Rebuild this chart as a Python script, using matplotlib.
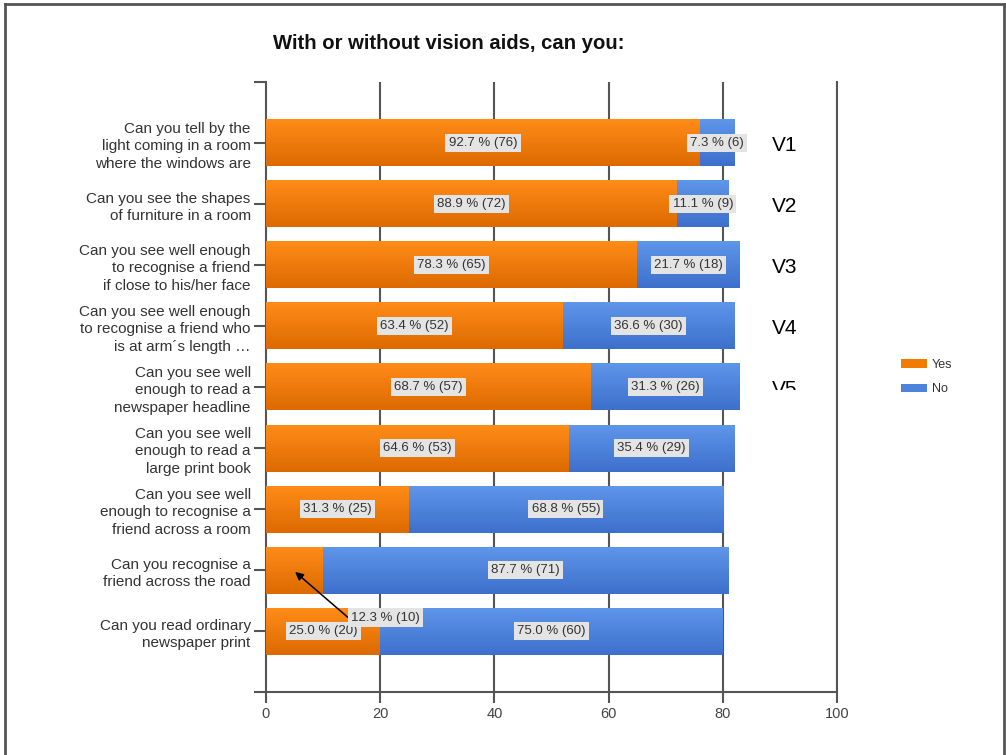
import numpy as np
import matplotlib
matplotlib.use('Agg')
import matplotlib.pyplot as plt
from matplotlib.lines import Line2D
from matplotlib.patches import Rectangle
from matplotlib.colors import LinearSegmentedColormap

plt.rcParams['font.family'] = ['Liberation Sans', 'DejaVu Sans']

questions = [
    'Can you tell by the\nlight coming in a room\nwhere the windows are',
    'Can you see the shapes\nof furniture in a room',
    'Can you see well enough\nto recognise a friend\nif close to his/her face',
    'Can you see well enough\nto recognise a friend who\nis at arm\u00b4s length \u2026',
    'Can you see well\nenough to read a\nnewspaper headline',
    'Can you see well\nenough to read a\nlarge print book',
    'Can you see well\nenough to recognise a\nfriend across a room',
    'Can you recognise a\nfriend across the road',
    'Can you read ordinary\nnewspaper print',
]
yes_count = [76, 72, 65, 52, 57, 53, 25, 10, 20]
no_count = [6, 9, 18, 30, 26, 29, 55, 71, 60]
yes_pct = [92.7, 88.9, 78.3, 63.4, 68.7, 64.6, 31.3, 12.3, 25.0]
no_pct = [7.3, 11.1, 21.7, 36.6, 31.3, 35.4, 68.8, 87.7, 75.0]
v_labels = ['V1', 'V2', 'V3', 'V4', 'V5']
x_ticks = [0, 20, 40, 60, 80, 100]

orange_cmap = LinearSegmentedColormap.from_list('orange', ['#FF8C18', '#DC6A00'])
blue_cmap = LinearSegmentedColormap.from_list('blue', ['#5E96EA', '#3D70CC'])

fig = plt.figure(figsize=(10.06, 7.55), dpi=100)
ax = fig.add_axes([0.2644, 0.0834, 0.5676, 0.808])

# vertical grid lines, kept under the bars
ax.vlines(x_ticks[1:], 0, 10, color='#555555', lw=1.5, zorder=0.5)

y = np.arange(1, len(questions) + 1)
bar_h = 0.77
yes_bars = ax.barh(y, yes_count, height=bar_h, color='#F27C00', zorder=3, label='Yes')
no_bars = ax.barh(y, no_count, left=yes_count, height=bar_h, color='#4C84DD', zorder=3, label='No')

# vertical shading on each bar
grad = np.linspace(0, 1, 64).reshape(-1, 1)
for bars, cmap in ((yes_bars, orange_cmap), (no_bars, blue_cmap)):
    for b in bars:
        x0, y0 = b.get_x(), b.get_y()
        ax.imshow(grad, cmap=cmap, aspect='auto', zorder=3.5, interpolation='bilinear',
                  extent=[x0, x0 + b.get_width(), y0 + b.get_height(), y0])

ax.set_xlim(0, 100)
ax.set_ylim(10, 0)

box = dict(boxstyle='square,pad=0.25', fc='#E4E4E4', ec='none')
for i in range(len(questions)):
    if i != 7:
        ax.text(yes_count[i] / 2, y[i], f'{yes_pct[i]:.1f} % ({yes_count[i]})',
                ha='center', va='center', fontsize=9.5, color='#333333', bbox=box, zorder=5)
    ax.text(yes_count[i] + no_count[i] / 2, y[i], f'{no_pct[i]:.1f} % ({no_count[i]})',
            ha='center', va='center', fontsize=9.5, color='#333333', bbox=box, zorder=5)

# small segment label moved out with a pointer
ax.annotate(f'{yes_pct[7]:.1f} % ({yes_count[7]})', xy=(5.1, 8.03), xytext=(20.9, 8.78),
            ha='center', va='center', fontsize=9.5, color='#333333', bbox=box, zorder=6,
            arrowprops=dict(arrowstyle='-|>', color='black', lw=1.1, shrinkA=0, shrinkB=0,
                            relpos=(0, 0.3), mutation_scale=12))

ax.set_xticks(x_ticks)
ax.set_yticks(y)
ax.set_yticklabels(questions, fontsize=11, color='#333333', linespacing=1.35)
ax.set_yticks([0, 10], minor=True)
ax.tick_params(axis='y', which='both', length=9, width=1.5, color='#555555', pad=2)
ax.tick_params(axis='x', length=8, width=1.5, color='#555555', labelsize=10.5,
               labelcolor='#444444', pad=3)
for s in ['left', 'bottom', 'right']:
    ax.spines[s].set_color('#555555')
    ax.spines[s].set_linewidth(1.5)
ax.spines['top'].set_visible(False)

fig.text(0.446, 0.943, 'With or without vision aids, can you:', ha='center', va='center',
         fontsize=14.6, fontweight='bold', color='#111111')

# variable tags next to the first bars
for i, lab in enumerate(v_labels):
    t = ax.text(0.8855, 1 - (y[i] + 0.035) / 10, lab, transform=ax.transAxes, ha='left',
                va='center', fontsize=15, color='black', zorder=6)
    if lab == 'V5':
        clip = Rectangle((0.75, 1 - 390 / 755), 0.2, 0.1, transform=fig.transFigure)
        t.set_clip_path(clip)
        t.set_clip_on(True)

leg = ax.legend(loc='upper left', bbox_to_anchor=(0.889, 0.533), bbox_transform=fig.transFigure,
                frameon=False, fontsize=9, handlelength=2.1, handleheight=0.7,
                labelspacing=1.0, handletextpad=0.4, borderpad=0)
for t in leg.get_texts():
    t.set_color('#333333')

# outer frame
frame_kw = dict(color='#555555', lw=2, transform=fig.transFigure)
fig.add_artist(Line2D([0.0045, 0.0045], [0, 0.9945], **frame_kw))
fig.add_artist(Line2D([0.0045, 0.9985], [0.9945, 0.9945], **frame_kw))
fig.add_artist(Line2D([0.9985, 0.9985], [0, 0.9945], **frame_kw))

fig.savefig('out.png', dpi=100)
